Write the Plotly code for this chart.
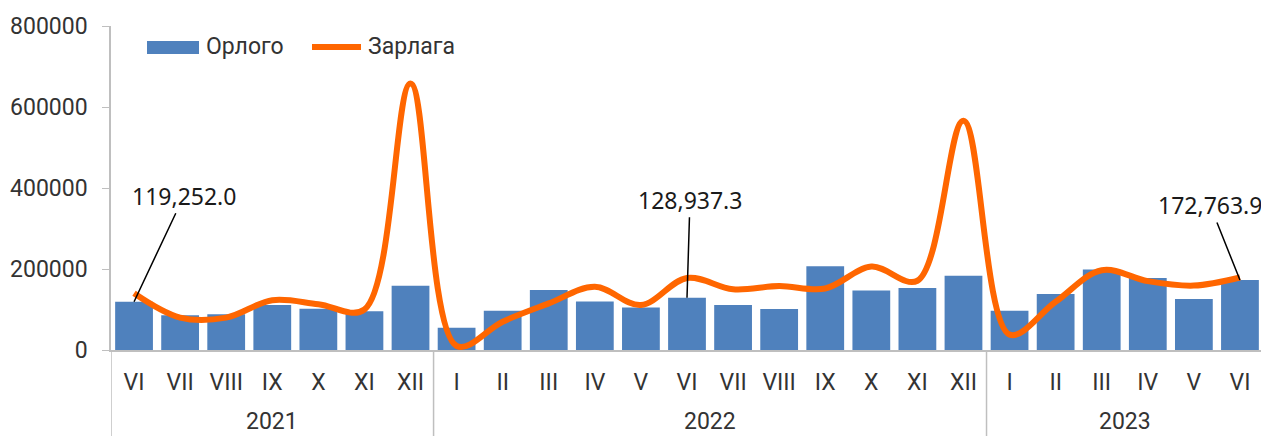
import plotly.graph_objects as go

years = ["2021", "2022", "2023"]
year_counts = [7, 12, 6]
months = ["VI", "VII", "VIII", "IX", "X", "XI", "XII",
          "I", "II", "III", "IV", "V", "VI", "VII", "VIII", "IX", "X", "XI", "XII",
          "I", "II", "III", "IV", "V", "VI"]

orlogo = [119252.0, 86000, 88000, 111000, 102000, 95500, 158800,
          55000, 97000, 148000, 120000, 105000, 128937.3, 111000, 101000, 206600, 147000, 153000, 183500,
          97000, 138000, 199000, 178000, 126000, 172763.9]

zarlaga = [140000, 80000, 80000, 123000, 113000, 100000, 658000,
           10000, 70000, 115000, 156000, 111000, 178000, 150000, 158000, 152000, 206000, 171000, 566000,
           38000, 119000, 197000, 170000, 159000, 179000]

label_idx = [0, 12, 24]
label_offsets = [(50, -106), (3, -98), (-30, -75)]

BAR_COLOR = "#4F81BD"
LINE_COLOR = "#FF6600"
AXIS_COLOR = "#BFBFBF"
TEXT_COLOR = "#333333"
font_main = "Roboto, 'Noto Sans', sans-serif"

# page is offset by the default 8px body margin
OFF = 8
W, H = 1269 - OFF, 436 - OFF
L, R, T = 111 - OFF, 6, 26 - OFF
B = H - (350 - OFF)
pw, ph = W - L - R, H - T - B

xs = list(range(len(months)))

fig = go.Figure()
fig.add_trace(go.Bar(x=xs, y=orlogo, name="Орлого", showlegend=False,
                     marker=dict(color=BAR_COLOR, line=dict(width=0))))
fig.add_trace(go.Scatter(x=xs, y=zarlaga, name="Зарлага", mode="lines", showlegend=False,
                         line=dict(color=LINE_COLOR, width=6, shape="spline", smoothing=1.0)))

for idx, (ax, ay) in zip(label_idx, label_offsets):
    val = orlogo[idx]
    fig.add_annotation(x=idx, y=val, text=f"{val:,.1f}", showarrow=True, arrowhead=0,
                       arrowwidth=1.5, arrowcolor="black", ax=ax, ay=ay,
                       font=dict(family="'Noto Sans', sans-serif", size=23, color="#1a1a1a"))

# page pixel -> paper coords
def px2x(px):
    return (px - OFF - L) / pw

def py2y(py):
    return (H - B - (py - OFF)) / ph

start = -0.5
bounds = [start]
for name, cnt in zip(years, year_counts):
    end = start + cnt
    fig.add_annotation(x=(start + end) / 2, xref="x", y=py2y(436), yref="paper",
                       text=name, showarrow=False, yanchor="bottom", borderpad=0,
                       font=dict(family=font_main, size=23, color=TEXT_COLOR))
    bounds.append(end)
    start = end
for b in bounds:
    fig.add_shape(type="line", xref="x", yref="paper", x0=b, x1=b, y0=0, y1=py2y(436),
                  line=dict(color=AXIS_COLOR, width=1.5))

# custom legend
fig.add_shape(type="rect", xref="paper", yref="paper", x0=px2x(147), x1=px2x(199),
              y0=py2y(54), y1=py2y(41), fillcolor=BAR_COLOR, line=dict(width=0))
fig.add_annotation(xref="paper", yref="paper", x=px2x(204), y=py2y(47), text="Орлого",
                   showarrow=False, xanchor="left", yanchor="middle",
                   font=dict(family=font_main, size=23, color=TEXT_COLOR))
fig.add_shape(type="line", xref="paper", yref="paper", x0=px2x(312), x1=px2x(361),
              y0=py2y(47), y1=py2y(47), line=dict(color=LINE_COLOR, width=6))
fig.add_annotation(xref="paper", yref="paper", x=px2x(366), y=py2y(47), text="Зарлага",
                   showarrow=False, xanchor="left", yanchor="middle",
                   font=dict(family=font_main, size=23, color=TEXT_COLOR))

fig.update_layout(
    width=W, height=H,
    margin=dict(l=L, r=R, t=T, b=B, autoexpand=False),
    paper_bgcolor="white", plot_bgcolor="white",
    bargap=0.18,
    font=dict(family=font_main, size=23, color=TEXT_COLOR),
    showlegend=False,
)
fig.update_yaxes(range=[0, 800000], dtick=200000, showgrid=False, showline=True,
                 linecolor=AXIS_COLOR, linewidth=1.5, ticks="outside", ticklen=7,
                 tickcolor=AXIS_COLOR, tickformat="d", zeroline=False,
                 ticklabelstandoff=10, automargin=False)
fig.update_xaxes(range=[-0.5, len(months) - 0.5], tickmode="array", tickvals=xs,
                 ticktext=months, showline=True, linecolor=AXIS_COLOR, linewidth=1.5,
                 ticks="", showgrid=False, zeroline=False, ticklabelstandoff=11,
                 automargin=False)

fig.write_html("out.html")
